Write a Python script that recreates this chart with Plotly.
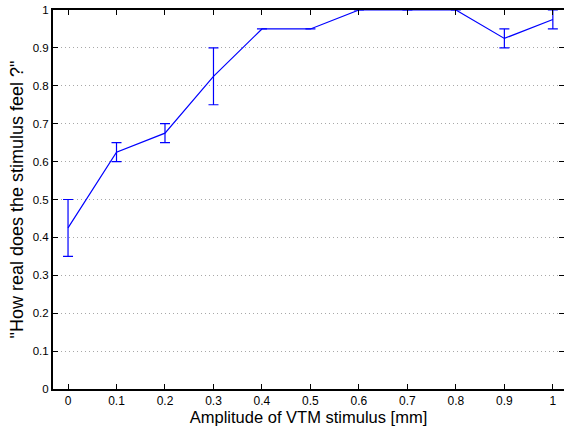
import plotly.graph_objects as go

amplitude = [0, 0.1, 0.2, 0.3, 0.4, 0.5, 0.6, 0.7, 0.8, 0.9, 1.0]
realness = [0.425, 0.625, 0.675, 0.825, 0.95, 0.95, 1.0, 1.0, 1.0, 0.925, 0.975]
err_upper = [0.5, 0.65, 0.70, 0.90, 0.95, 0.95, 1.0, 1.0, 1.0, 0.95, 1.0]
err_lower = [0.35, 0.60, 0.65, 0.75, 0.95, 0.95, 1.0, 1.0, 1.0, 0.90, 0.95]

x_ticks = [0, 0.1, 0.2, 0.3, 0.4, 0.5, 0.6, 0.7, 0.8, 0.9, 1.0]
x_ticklabels = ["0", "0.1", "0.2", "0.3", "0.4", "0.5", "0.6", "0.7", "0.8", "0.9", "1"]
y_ticks = [0, 0.1, 0.2, 0.3, 0.4, 0.5, 0.6, 0.7, 0.8, 0.9, 1.0]
y_ticklabels = ["0", "0.1", "0.2", "0.3", "0.4", "0.5", "0.6", "0.7", "0.8", "0.9", "1"]

plus = [u - r for u, r in zip(err_upper, realness)]
minus = [r - l for r, l in zip(realness, err_lower)]

fig = go.Figure()
fig.add_trace(go.Scatter(
    x=amplitude, y=realness, mode="lines",
    line=dict(color="#0000ff", width=1.2),
    error_y=dict(type="data", symmetric=False, array=plus, arrayminus=minus,
                 color="#0000ff", thickness=1.2, width=5),
    showlegend=False, cliponaxis=False,
))

font = "Liberation Sans, Arial, Helvetica, sans-serif"
fig.update_layout(
    width=564, height=428,
    margin=dict(l=53, r=0, t=10, b=39, autoexpand=False),
    paper_bgcolor="white", plot_bgcolor="white",
    font=dict(family=font, size=11, color="black"),
    xaxis=dict(
        range=[-0.031, 1.023], tickmode="array", tickvals=x_ticks, ticktext=x_ticklabels,
        ticks="inside", ticklen=5, tickcolor="black", tickwidth=1,
        showline=True, linecolor="black", linewidth=2, mirror="ticks",
        showgrid=False, zeroline=False, automargin=False,
        title=dict(text="Amplitude of VTM stimulus [mm]", font=dict(size=16.5), standoff=1),
        tickfont=dict(size=12),
    ),
    yaxis=dict(
        range=[0, 1], tickmode="array", tickvals=y_ticks, ticktext=y_ticklabels,
        ticks="inside", ticklen=5, tickcolor="black", tickwidth=1,
        showline=True, linecolor="black", linewidth=2, mirror="ticks",
        showgrid=True, gridcolor="#a8a8a8", griddash="1px,3px", gridwidth=1,
        zeroline=False, automargin=False,
        title=dict(text='"How real does the stimulus feel ?"', font=dict(size=18), standoff=4),
        tickfont=dict(size=11.5),
    ),
)

fig.write_html("out.html", config={"displayModeBar": False},
               post_script="document.body.style.margin='0px';")
